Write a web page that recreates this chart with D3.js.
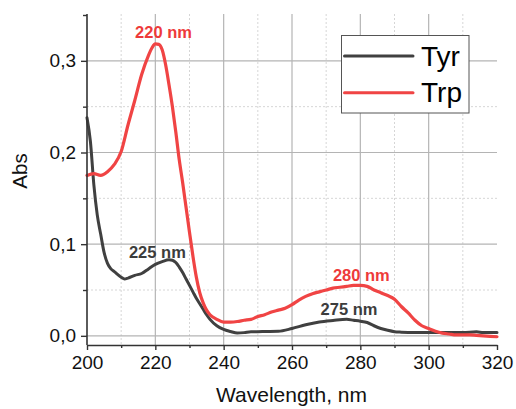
<!DOCTYPE html>
<html>
<head>
<meta charset="utf-8">
<script src="https://cdn.jsdelivr.net/npm/d3@7/dist/d3.min.js"></script>
<style>
  html, body { margin: 0; padding: 0; background: #fff; }
  svg { display: block; font-family: "Liberation Sans", Arial, sans-serif; }
</style>
</head>
<body>
<svg id="chart" width="516" height="409"></svg>
<script>
// ---- data ----
const trpNm = [200,202,204,206,208,210,212,214,216,218,219,220,221,222,223,224,225,226,227,228,229,230,231,232,233,234,235,236,238,240,242,244,246,248,250,252,254,256,258,260,262,264,266,268,270,272,274,276,278,280,282,284,286,288,290,292,294,296,298,300,302,304,306,308,310,312,314,316,318,320];
const trpAbs = [0.175,0.177,0.175,0.179,0.187,0.201,0.230,0.257,0.285,0.306,0.314,0.3185,0.318,0.312,0.296,0.274,0.250,0.222,0.192,0.167,0.140,0.113,0.087,0.064,0.047,0.036,0.028,0.023,0.018,0.015,0.015,0.0156,0.017,0.018,0.021,0.023,0.026,0.028,0.030,0.034,0.039,0.043,0.046,0.048,0.050,0.052,0.053,0.054,0.055,0.055,0.054,0.050,0.047,0.044,0.040,0.032,0.025,0.017,0.011,0.008,0.005,0.003,0.002,0.001,0.001,0.001,0.0005,0.0,-0.0005,-0.001];

const tyrNm = [200,201,202,203,204,205,206,207,208,210,211,212,214,216,218,220,222,224,225,226,227,228,229,230,231,232,233,234,235,236,238,240,242,244,246,248,250,252,256,260,264,268,272,276,278,280,282,284,286,288,290,292,296,300,305,310,314,316,320];
const tyrAbs = [0.238,0.212,0.165,0.132,0.111,0.091,0.079,0.073,0.070,0.064,0.062,0.063,0.066,0.068,0.073,0.078,0.081,0.083,0.0825,0.080,0.075,0.069,0.062,0.055,0.048,0.041,0.035,0.029,0.023,0.018,0.011,0.007,0.0047,0.003,0.0035,0.0045,0.0045,0.0047,0.005,0.008,0.012,0.0150,0.0167,0.018,0.017,0.016,0.0145,0.011,0.008,0.006,0.0045,0.004,0.0036,0.0036,0.0036,0.0036,0.0044,0.0036,0.0036];

const seriesNames = ["Tyr", "Trp"];
const seriesColors = ["#404040", "#f04444"];

const xMajorTicks = [200,220,240,260,280,300,320];
const xMinorTicks = [210,230,250,270,290,310];
const yMajorTicks = [0.0,0.1,0.2,0.3];
const yMinorTicks = [0.05,0.15,0.25,0.35];

// peak annotations
const peakLabels = ["220 nm","225 nm","280 nm","275 nm"];
const peakX = [222.4,220.6,280.3,276.7];
const peakY = [0.325,0.085,0.060,0.0229];
const peakSeries = [1,0,1,0];
const labelColors = ["#3c3c3c", "#ee3a3a"];

// ---- layout ----
const svg = d3.select("#chart");
const x = d3.scaleLinear().domain([200,320]).range([87,497]);
const y = d3.scaleLinear().domain([-0.01,0.35]).range([345,15]);
const x0 = x.range()[0], x1 = x.range()[1];
const yB = y.range()[0], yT = 14;

const grid = svg.append("g");
grid.selectAll(".vmin").data(xMinorTicks).join("line")
  .attr("x1", d => x(d)).attr("x2", d => x(d)).attr("y1", yT).attr("y2", yB)
  .attr("stroke", "#d6d6d6").attr("stroke-width", 1).attr("stroke-dasharray", "2,2");
grid.selectAll(".hmin").data(yMinorTicks.filter(d => d < 0.34)).join("line")
  .attr("x1", x0).attr("x2", x1).attr("y1", d => y(d)).attr("y2", d => y(d))
  .attr("stroke", "#d6d6d6").attr("stroke-width", 1).attr("stroke-dasharray", "2,2");
grid.selectAll(".vmaj").data(xMajorTicks.filter(d => d > 200 && d < 320)).join("line")
  .attr("x1", d => x(d)).attr("x2", d => x(d)).attr("y1", yT).attr("y2", yB)
  .attr("stroke", "#b4b4b4").attr("stroke-width", 1.2);
grid.selectAll(".hmaj").data(yMajorTicks).join("line")
  .attr("x1", x0).attr("x2", x1).attr("y1", d => y(d)).attr("y2", d => y(d))
  .attr("stroke", "#b4b4b4").attr("stroke-width", 1.2);

// ---- lines ----
const line = d3.line().curve(d3.curveMonotoneX)
  .x(d => x(d[0])).y(d => y(d[1]));
const tyrData = tyrNm.map((d,i) => [d, tyrAbs[i]]);
const trpData = trpNm.map((d,i) => [d, trpAbs[i]]);

svg.append("path").datum(tyrData).attr("d", line)
  .attr("fill","none").attr("stroke", seriesColors[0]).attr("stroke-width", 3)
  .attr("stroke-linejoin","round").attr("stroke-linecap","round");
svg.append("path").datum(trpData).attr("d", line)
  .attr("fill","none").attr("stroke", seriesColors[1]).attr("stroke-width", 3.2)
  .attr("stroke-linejoin","round").attr("stroke-linecap","round");

// ---- axes ----
const fmt = d => d3.format(".1f")(d).replace(".", ",");
const axisColor = "#333";
const gx = svg.append("g").attr("transform", `translate(0,${yB})`)
  .call(d3.axisBottom(x).tickValues(xMajorTicks).tickSize(5).tickSizeOuter(0).tickPadding(6));
const gxm = svg.append("g").attr("transform", `translate(0,${yB})`)
  .call(d3.axisBottom(x).tickValues(xMinorTicks).tickSize(3).tickSizeOuter(0).tickFormat(""));
gxm.select(".domain").remove();
const gy = svg.append("g").attr("transform", `translate(${x0},0)`)
  .call(d3.axisLeft(y).tickValues(yMajorTicks).tickSize(6).tickSizeOuter(0).tickPadding(5).tickFormat(fmt));
const gym = svg.append("g").attr("transform", `translate(${x0},0)`)
  .call(d3.axisLeft(y).tickValues(yMinorTicks).tickSize(4).tickSizeOuter(0).tickFormat(""));
gym.select(".domain").remove();
gy.select(".domain").attr("d", `M0,${yT}V${yB}`);

[gx, gxm, gy, gym].forEach(g => {
  g.selectAll(".domain").attr("stroke", axisColor).attr("stroke-width", 1.6);
  g.selectAll(".tick line").attr("stroke", axisColor).attr("stroke-width", 1.4);
  g.selectAll(".tick text").attr("fill", "#111").style("font-size", "19px")
    .style("font-family", '"Liberation Sans", Arial, sans-serif');
});

// axis titles
svg.append("text").attr("x", (x0 + x1) / 2 - 0.5).attr("y", 402)
  .attr("text-anchor", "middle").style("font-size", "21px").attr("fill", "#111")
  .text("Wavelength, nm");
svg.append("text").attr("transform", "translate(27,171) rotate(-90)")
  .attr("text-anchor", "middle").style("font-size", "20.5px").attr("fill", "#111")
  .text("Abs");

// ---- peak labels ----
svg.selectAll(".peak").data(peakLabels).join("text")
  .attr("x", (d,i) => x(peakX[i])).attr("y", (d,i) => y(peakY[i]))
  .attr("text-anchor", "middle").style("font-size", "16.5px").style("font-weight", "bold")
  .attr("fill", (d,i) => labelColors[peakSeries[i]])
  .text(d => d);

// ---- legend ----
const lg = svg.append("g");
lg.append("rect").attr("x", 341.5).attr("y", 35.5).attr("width", 127.5).attr("height", 77.5)
  .attr("fill", "#fff").attr("stroke", "#555").attr("stroke-width", 1);
seriesNames.forEach((name, i) => {
  const ly = 56 + i * 36.7;
  lg.append("line").attr("x1", 344.5).attr("x2", 413).attr("y1", ly).attr("y2", ly)
    .attr("stroke", seriesColors[i]).attr("stroke-width", 3).attr("stroke-linecap", "round");
  lg.append("text").attr("x", 421).attr("y", ly + 9.5).style("font-size", "28px")
    .attr("fill", "#000").text(name);
});
</script>
</body>
</html>
